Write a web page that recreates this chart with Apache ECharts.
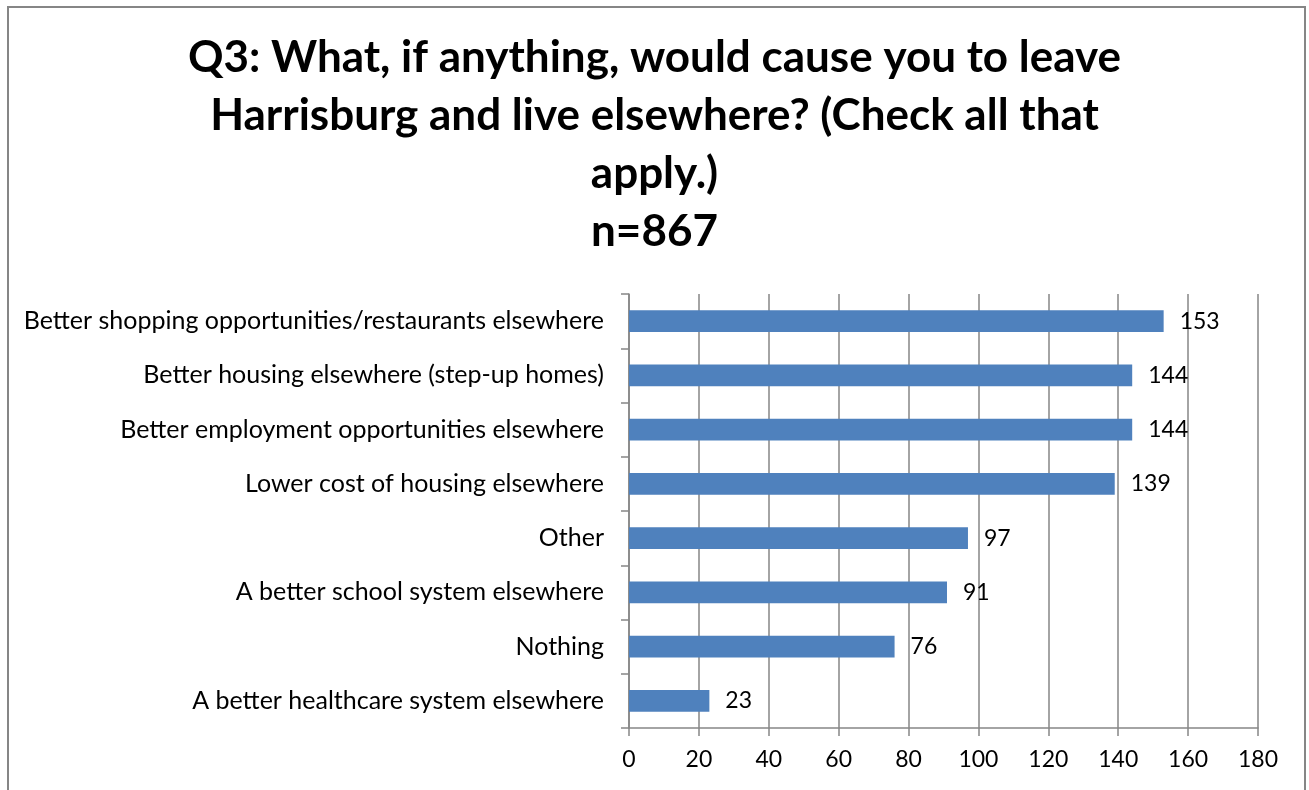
<!DOCTYPE html>
<html>
<head>
<meta charset="utf-8">
<script src="https://cdn.jsdelivr.net/npm/echarts@6/dist/echarts.min.js"></script>
<style>
  html, body { margin: 0; padding: 0; background: #ffffff; }
  #chart { width: 1309px; height: 790px; }
</style>
</head>
<body>
<div id="chart"></div>
<script>
// Survey responses, listed top to bottom
const categories = [
  'Better shopping opportunities/restaurants elsewhere',
  'Better housing elsewhere (step-up homes)',
  'Better employment opportunities elsewhere',
  'Lower cost of housing elsewhere',
  'Other',
  'A better school system elsewhere',
  'Nothing',
  'A better healthcare system elsewhere'
];
const counts = [153, 144, 144, 139, 97, 91, 76, 23];
const titleLines = [
  'Q3: What, if anything, would cause you to leave',
  'Harrisburg and live elsewhere? (Check all that',
  'apply.)',
  'n=867'
];

const FONT = 'Lato, "Open Sans", sans-serif';
const AXIS_GRAY = '#868686';

const chart = echarts.init(document.getElementById('chart'), null, { renderer: 'canvas' });
chart.setOption({
  backgroundColor: '#ffffff',
  animation: false,
  graphic: [{
    type: 'rect',
    shape: { x: 8, y: 7, width: 1297, height: 800 },
    style: { fill: 'none', stroke: AXIS_GRAY, lineWidth: 2 },
    silent: true
  }],
  title: {
    text: titleLines.join('\n'),
    left: 'center',
    top: 24,
    textStyle: {
      fontFamily: FONT,
      fontWeight: 'bold',
      fontSize: 44,
      lineHeight: 58,
      color: '#000000'
    }
  },
  grid: { left: 629, right: 51, top: 294, bottom: 62, containLabel: false },
  xAxis: {
    type: 'value',
    min: 0,
    max: 180,
    interval: 20,
    axisLine: { show: true, lineStyle: { color: AXIS_GRAY, width: 1.5 } },
    axisTick: { show: true, length: 8, lineStyle: { color: AXIS_GRAY, width: 1.5 } },
    axisLabel: { margin: 20, color: '#000000', fontFamily: FONT, fontSize: 23 },
    splitLine: { show: true, lineStyle: { color: AXIS_GRAY, width: 1.5 } }
  },
  yAxis: {
    type: 'category',
    data: categories,
    inverse: true,
    axisLine: { show: true, lineStyle: { color: AXIS_GRAY, width: 1.5 } },
    axisTick: { show: true, length: 8, lineStyle: { color: AXIS_GRAY, width: 1.5 } },
    axisLabel: { margin: 25, color: '#000000', fontFamily: FONT, fontSize: 25 },
    splitLine: { show: false }
  },
  series: [{
    type: 'bar',
    data: counts,
    barCategoryGap: '60%',
    itemStyle: { color: '#4F81BD' },
    label: {
      show: true,
      position: 'right',
      distance: 16,
      color: '#000000',
      fontFamily: FONT,
      fontSize: 23
    }
  }]
});
</script>
</body>
</html>
